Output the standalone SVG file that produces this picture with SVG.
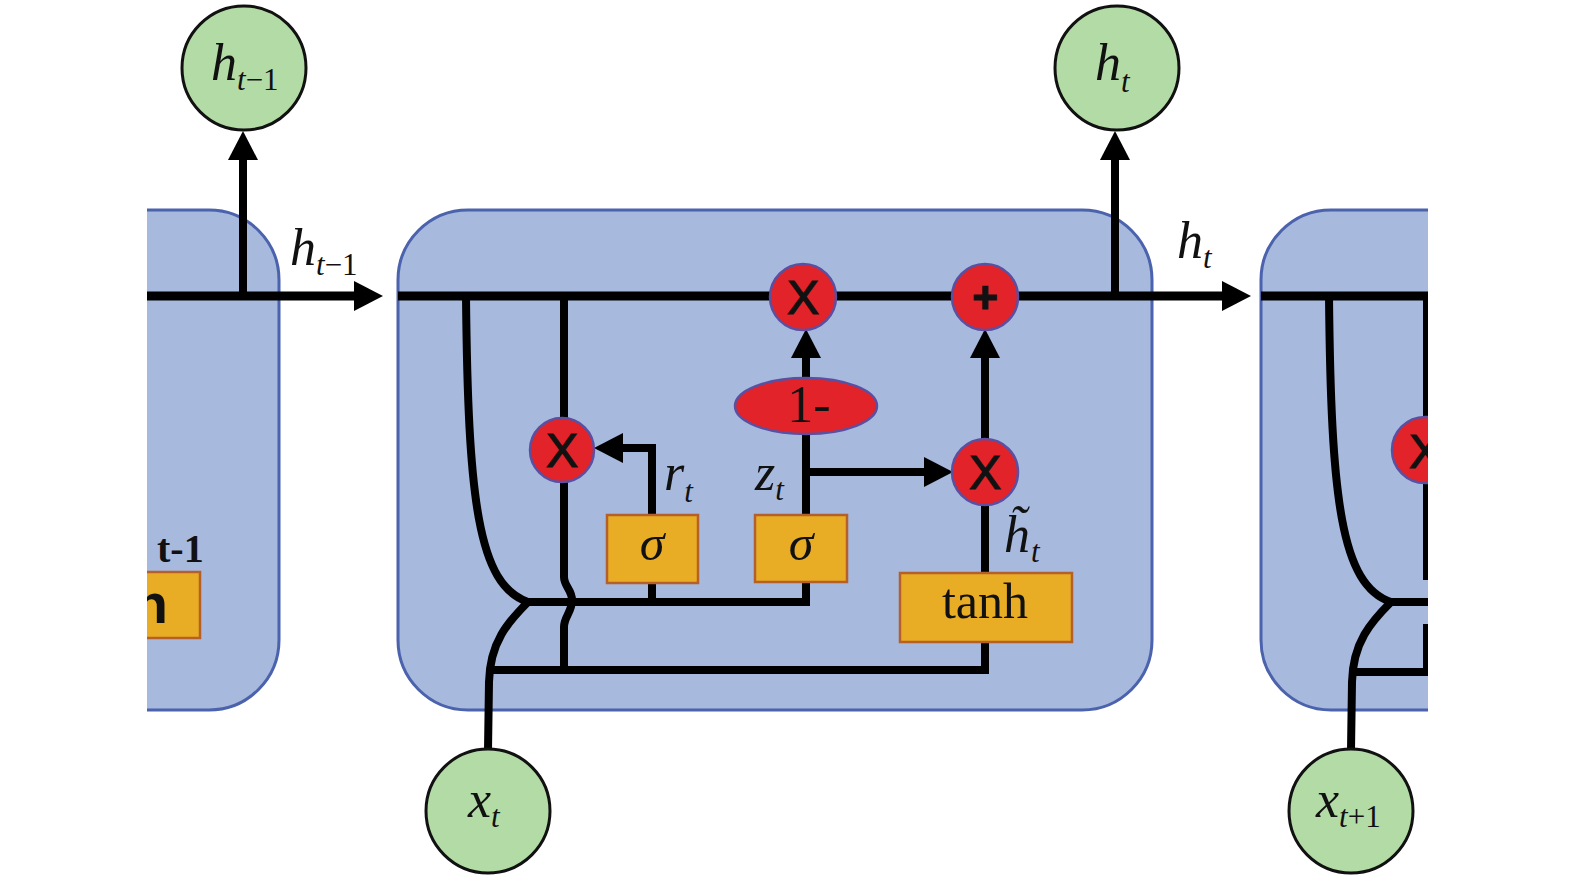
<svg xmlns="http://www.w3.org/2000/svg" width="1575" height="880" viewBox="0 0 1575 880">
<style>
.cell{fill:#a7b9dd;stroke:#4b62ad;stroke-width:3}
.wire{fill:none;stroke:#000;stroke-width:8;stroke-linejoin:miter}
.main{fill:none;stroke:#000;stroke-width:9}
.op{fill:#e2232a;stroke:#5a4fa0;stroke-width:2.5}
.box{fill:#e9ad25;stroke:#b5602a;stroke-width:2.5}
.io{fill:#b3dba6;stroke:#111;stroke-width:3}
.v{font-family:"Liberation Serif","Times New Roman",serif;font-style:italic;fill:#111}
.s{font-size:31px}
.n{font-style:normal}
.opt{font-family:"Liberation Sans",Arial,sans-serif;fill:#111;stroke:#111;stroke-width:1.2;text-anchor:middle}
.bt{font-family:"Liberation Serif","Times New Roman",serif;fill:#111;text-anchor:middle}
</style>
<defs>
<marker id="ah" markerUnits="userSpaceOnUse" markerWidth="30" markerHeight="32" refX="0" refY="16" orient="auto">
<path d="M0,1 L29,16 L0,31 z" fill="#000"/>
</marker>
<clipPath id="vis"><rect x="147" y="0" width="1281" height="880"/></clipPath>
</defs>
<rect width="1575" height="880" fill="#fff"/>

<g clip-path="url(#vis)">
<g id="cell-prev">
<rect class="cell" x="-475" y="210" width="754" height="500" rx="70"/>
<rect class="box" x="60" y="572" width="140" height="66"/>
<text x="168" y="623" style="font-family:'Liberation Sans',Arial,sans-serif;font-weight:bold;font-size:56px;fill:#111" text-anchor="end">tanh</text>
<text x="157" y="562" style="font-family:'Liberation Serif','Times New Roman',serif;font-weight:bold;font-size:40px;fill:#111">t-1</text>
</g>

<g id="cell-main">
<rect class="cell" x="398" y="210" width="754" height="500" rx="70"/>
</g>

<g id="cell-next">
<rect class="cell" x="1261" y="210" width="754" height="500" rx="70"/>
</g>

<g id="connectors">
<path class="main" d="M147,296 H354" marker-end="url(#ah)"/>
<path class="wire" d="M243,296 V160" marker-end="url(#ah)"/>
<path class="main" d="M398,296 H1222" marker-end="url(#ah)"/>
<path class="wire" d="M1115,296 V160" marker-end="url(#ah)"/>
<path class="wire" d="M466,296 C468,500 478,585 528,602"/>
<path class="wire" d="M528,602 H806 V582"/>
<path class="wire" d="M652,602 V582"/>
<path class="wire" d="M528,602 C508,622 490,642 489,682 L488,750"/>
<path class="wire" d="M489,670 H985 V640"/>
<path class="wire" d="M564,296 V577 C564,586 572,590 572,600 C572,612 564,617 564,627 V670"/>
<path class="wire" d="M652,516 V448 H623" marker-end="url(#ah)"/>
<path class="wire" d="M806,516 V430"/>
<path class="wire" d="M806,382 V358" marker-end="url(#ah)"/>
<path class="wire" d="M806,472 H924" marker-end="url(#ah)"/>
<path class="wire" d="M985,573 V500"/>
<path class="wire" d="M985,442 V358" marker-end="url(#ah)"/>
<path class="main" d="M1261,296 H1430"/>
<path class="wire" d="M1329,296 C1331,500 1341,585 1391,602"/>
<path class="wire" d="M1391,602 H1430"/>
<path class="wire" d="M1391,602 C1371,622 1353,642 1352,682 L1351,750"/>
<path class="wire" d="M1352,672 H1430"/>
<path class="wire" d="M1427,296 V580 M1427,624 V672"/>
</g>

<g id="op-next-reset">
<circle class="op" cx="1425" cy="450" r="33"/>
<text class="opt" x="1425" y="468" font-size="48">X</text>
</g>
</g>

<g id="op-reset">
<circle class="op" cx="562" cy="450" r="32"/>
<text class="opt" x="562" y="467" font-size="48">X</text>
</g>
<g id="op-mul-top">
<circle class="op" cx="803" cy="297" r="33"/>
<text class="opt" x="803" y="314" font-size="48">X</text>
</g>
<g id="op-add">
<circle class="op" cx="985" cy="297" r="33"/>
<text class="opt" x="985" y="313" font-size="44" font-weight="bold">+</text>
</g>
<g id="op-mul-low">
<circle class="op" cx="985" cy="472" r="33"/>
<text class="opt" x="985" y="489" font-size="48">X</text>
</g>
<g id="one-minus">
<ellipse class="op" cx="806" cy="406" rx="71" ry="28"/>
<text class="bt" x="809" y="422" font-size="52">1-</text>
</g>
<g id="sigma-r">
<rect class="box" x="607" y="515" width="91" height="68"/>
<text class="v" x="652" y="560" font-size="50" text-anchor="middle">σ</text>
</g>
<g id="sigma-z">
<rect class="box" x="755" y="515" width="92" height="67"/>
<text class="v" x="801" y="560" font-size="50" text-anchor="middle">σ</text>
</g>
<g id="tanh">
<rect class="box" x="900" y="573" width="172" height="69"/>
<text class="bt" x="985" y="618" font-size="50">tanh</text>
</g>

<g id="h-prev-out">
<circle class="io" cx="244" cy="68" r="62"/>
<text class="v" x="211" y="80" font-size="52">h<tspan class="s" dy="10">t<tspan class="n">−1</tspan></tspan></text>
</g>
<g id="h-out">
<circle class="io" cx="1117" cy="68" r="62"/>
<text class="v" x="1095" y="80" font-size="52">h<tspan class="s" dy="12">t</tspan></text>
</g>
<g id="x-in">
<circle class="io" cx="488" cy="811" r="62"/>
<text class="v" x="468" y="817" font-size="52">x<tspan class="s" dy="10">t</tspan></text>
</g>
<g id="x-next-in">
<circle class="io" cx="1351" cy="811" r="62"/>
<text class="v" x="1316" y="817" font-size="52">x<tspan class="s" dy="10">t<tspan class="n">+1</tspan></tspan></text>
</g>

<g id="labels">
<text class="v" x="290" y="265" font-size="52">h<tspan class="s" dy="10">t<tspan class="n">−1</tspan></tspan></text>
<text class="v" x="1177" y="258" font-size="52">h<tspan class="s" dy="10">t</tspan></text>
<text class="v" x="664" y="490" font-size="52">r<tspan class="s" dy="12">t</tspan></text>
<text class="v" x="755" y="490" font-size="52">z<tspan class="s" dy="10">t</tspan></text>
<text class="v" x="1004" y="552" font-size="52">h&#x303;<tspan class="s" dx="1" dy="10">t</tspan></text>
</g>
</svg>
